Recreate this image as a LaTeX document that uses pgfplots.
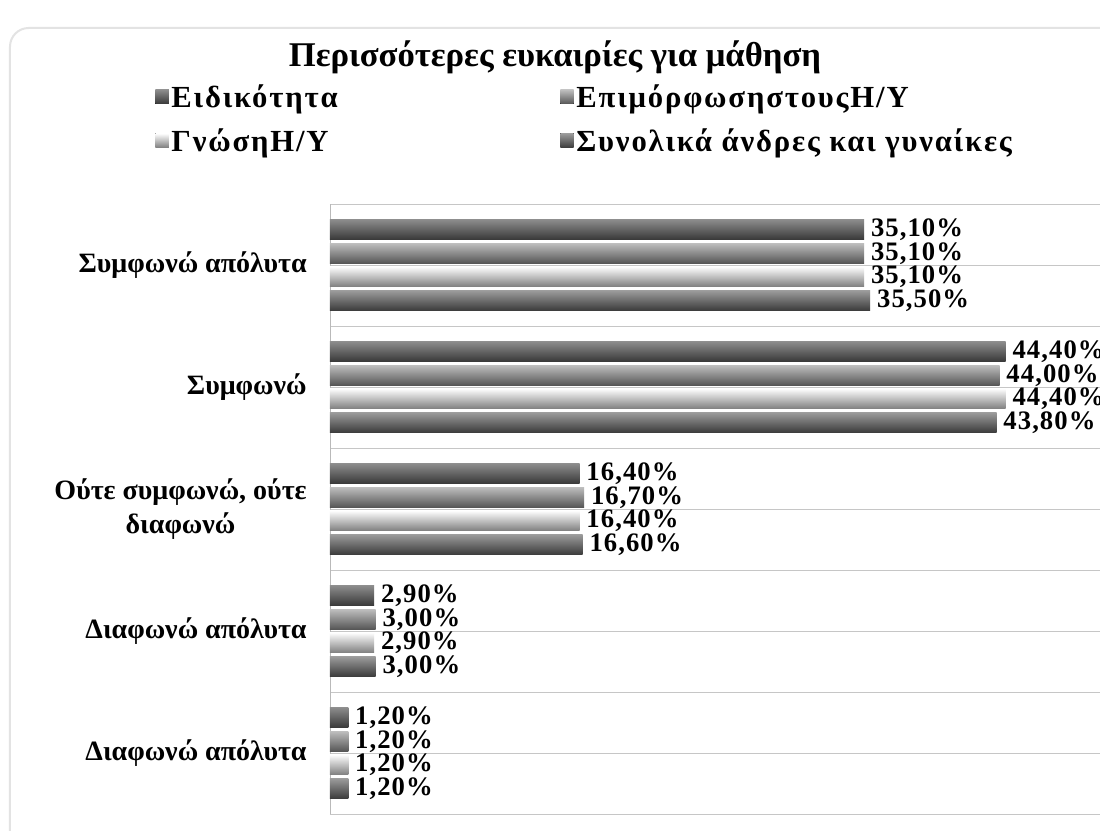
\documentclass[border=0pt]{standalone}
\usepackage{pgfplots}
\pgfplotsset{compat=1.18}
\usetikzlibrary{backgrounds}
\usepackage{fontspec}
\setmainfont{Liberation Serif}
\definecolor{aT}{HTML}{8C8C8C}\definecolor{aM}{HTML}{4C4C4C}\definecolor{aB}{HTML}{383838}
\definecolor{bT}{HTML}{BDBDBD}\definecolor{bM}{HTML}{7C7C7C}\definecolor{bB}{HTML}{555555}
\definecolor{cT}{HTML}{FFFFFF}\definecolor{cM}{HTML}{CBCBCB}\definecolor{cB}{HTML}{808080}
\definecolor{dT}{HTML}{9C9C9C}\definecolor{dM}{HTML}{5C5C5C}\definecolor{dB}{HTML}{3C3C3C}
\pgfplotsset{
  sq/.style={legend image code/.code={\fill[##1] (0pt,-5pt) rectangle (10pt,5.5pt);}},
  sA/.style={draw=none, top color=aT, middle color=aM, bottom color=aB, sq},
  sB/.style={draw=none, top color=bT, middle color=bM, bottom color=bB, sq},
  sC/.style={draw=none, top color=cT, middle color=cM, bottom color=cB, sq},
  sD/.style={draw=none, top color=dT, middle color=dM, bottom color=dB, sq},
}
\begin{document}
\begin{tikzpicture}[x=0.75pt,y=0.75pt]
\begin{axis}[
  name=ax,
  width=577.5pt, height=457.5pt, scale only axis,
  xbar, bar shift=0pt, bar width=0.164,
  xmin=0, xmax=50.6, ymin=-4.5, ymax=0.5,
  axis x line=none,
  axis y line*=left,
  y axis line style={gray!55},
  ytick={0,-1,-2,-3,-4},
  yticklabels={Συμφωνώ απόλυτα, Συμφωνώ, {Ούτε συμφωνώ, ούτε\\διαφωνώ}, Διαφωνώ απόλυτα, Διαφωνώ απόλυτα},
  minor ytick={0.5,-0.5,-1.5,-2.5,-3.5,-4.5},
  ymajorgrids, yminorgrids,
  major grid style={gray!45}, minor grid style={gray!45},
  major tick length=0pt, minor tick length=0pt,
  yticklabel style={font=\bfseries\fontsize{21}{25}\selectfont, align=center, xshift=-14pt},
  clip=false,
  point meta=x,
  nodes near coords={\pgfmathprintnumber[fixed,fixed zerofill,precision=2,use comma,assume math mode=true]{\pgfplotspointmeta}\%},
  every node near coord/.append style={font=\bfseries\fontsize{20}{20}\selectfont\addfontfeature{LetterSpace=4}, anchor=west, black, inner sep=0pt, xshift=5pt},
  legend style={at={(-0.227,1.2)}, anchor=north west, draw=none, fill=none, inner sep=0pt,
    font=\bfseries\fontsize{23}{26}\selectfont\addfontfeature{LetterSpace=6}, row sep=10pt,
    /tikz/column 2/.style={column sep=165pt}},
  legend columns=2,
  legend cell align=left,
]
% Ειδικότητα
\addplot[sA] coordinates {(35.1,0.29)};
\addlegendentry{Ειδικότητα}
% Επιμόρφωση
\addplot[sB] coordinates {(35.1,0.095)};
\addlegendentry{ΕπιμόρφωσηστουςΗ/Υ}
% Γνώση
\addplot[sC] coordinates {(35.1,-0.095)};
\addlegendentry{ΓνώσηΗ/Υ}
% Συνολικά
\addplot[sD] coordinates {(35.5,-0.29)};
\addlegendentry{Συνολικά άνδρες και γυναίκες}
% remaining categories
\addplot[sA, forget plot] coordinates {(44.4,-0.71)};
\addplot[sB, forget plot] coordinates {(44.0,-0.905)};
\addplot[sC, forget plot] coordinates {(44.4,-1.095)};
\addplot[sD, forget plot] coordinates {(43.8,-1.29)};
\addplot[sA, forget plot] coordinates {(16.4,-1.71)};
\addplot[sB, forget plot] coordinates {(16.7,-1.905)};
\addplot[sC, forget plot] coordinates {(16.4,-2.095)};
\addplot[sD, forget plot] coordinates {(16.6,-2.29)};
\addplot[sA, forget plot] coordinates {(2.9,-2.71)};
\addplot[sB, forget plot] coordinates {(3.0,-2.905)};
\addplot[sC, forget plot] coordinates {(2.9,-3.095)};
\addplot[sD, forget plot] coordinates {(3.0,-3.29)};
\addplot[sA, forget plot] coordinates {(1.2,-3.71)};
\addplot[sB, forget plot] coordinates {(1.2,-3.905)};
\addplot[sC, forget plot] coordinates {(1.2,-4.095)};
\addplot[sD, forget plot] coordinates {(1.2,-4.29)};
\coordinate (O) at (axis description cs:0,0);
\end{axis}
\begin{scope}[shift={(O)}]
\node[font=\bfseries\fontsize{26}{30}\selectfont] at (225,757) {Περισσότερες ευκαιρίες για  μάθηση};
\begin{scope}[on background layer]
\fill[white] (-340,-30) rectangle (800,830);
\draw[gray!22, line width=1.5pt, rounded corners=14] (-320,-40) -- (-320,786) -- (800,786);
\end{scope}
\pgfresetboundingbox
\path[use as bounding box] (-330,-17) rectangle (770,814);
\end{scope}
\end{tikzpicture}
\end{document}
